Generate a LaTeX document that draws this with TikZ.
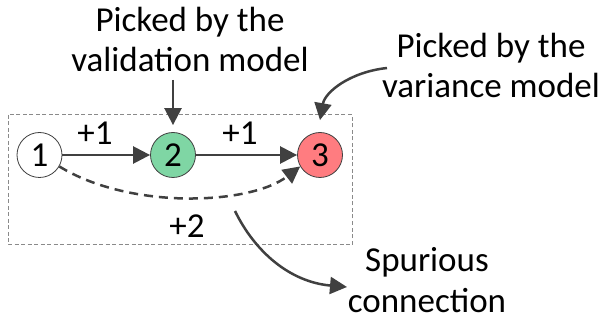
\documentclass[tikz,border=0pt]{standalone}
\usepackage{fontspec}
\setmainfont{Carlito}
\usetikzlibrary{arrows.meta}
\definecolor{linegray}{HTML}{404040}
\definecolor{boxgray}{HTML}{8A8A8A}
\definecolor{nodegreen}{HTML}{7FD6A4}
\definecolor{nodered}{HTML}{FF7C80}
\tikzset{
  state/.style={circle, draw=linegray, line width=0.8pt, minimum size=45pt, inner sep=0pt,
    font=\fontsize{35}{40}\selectfont},
  label text/.style={font=\fontsize{35}{40}\selectfont, inner sep=0pt, align=center},
  conn/.style={draw=linegray, line width=2.5pt,
    -{Triangle[length=17pt,width=17pt]}},
}
\begin{document}
\begin{tikzpicture}[x=1pt,y=-1pt]
  \useasboundingbox (0,0) rectangle (602,320);
  % frame around the chain
  \draw[boxgray, line width=1pt, dash pattern=on 4pt off 2.5pt] (8,115) rectangle (352,245);
  % states
  \node[state, fill=white] (s1) at (39.5,155) {1};
  \node[state, fill=nodegreen] (s2) at (173,155) {2};
  \node[state, fill=nodered] (s3) at (320,155) {3};
  % direct transitions
  \draw[conn] (s1) -- (s2);
  \draw[conn] (s2) -- (s3);
  \node[label text, anchor=base] (w12) at (95,145) {+1};
  \node[label text, anchor=base] (w23) at (240,145) {+1};
  % skip transition
  \draw[conn, dash pattern=on 9pt off 6pt] (s1.-30) .. controls (130,210) and (250,205) .. (s3.-150);
  \node[label text, anchor=base] (w13) at (187,238) {+2};
  % annotations (base anchor sits on the last line)
  \node[label text, anchor=base] (valtext) at (190,72) {Picked by the\\validation model};
  \coordinate (valstart) at (173,80);
  \draw[conn] (valstart) -- ([yshift=7pt]s2.north);
  \node[label text, anchor=base] (vartext) at (491,98) {Picked by the\\variance model};
  \coordinate (varstart) at (387,68);
  \draw[conn] (varstart) .. controls (350,72) and (325,92) .. ([yshift=12pt]s3.north);
  \node[label text, anchor=base] (spurtext) at (427,312) {Spurious\\connection};
  \coordinate (spurstart) at (235,211);
  \coordinate (spurend) at (347,287);
  \draw[conn] (spurstart) .. controls (255,252) and (290,282) .. (spurend);
\end{tikzpicture}
\end{document}
